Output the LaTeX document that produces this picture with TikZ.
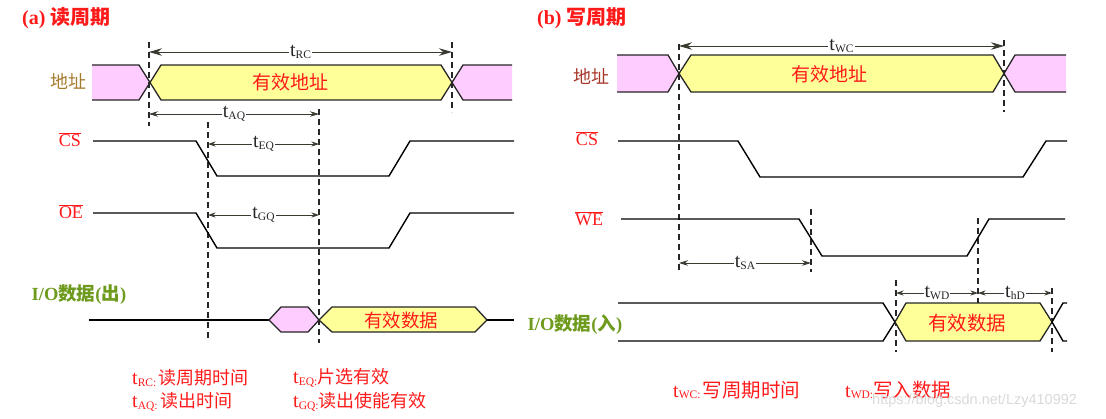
\documentclass[tikz,border=0pt]{standalone}
\usepackage{fontspec}
\setmainfont{Liberation Serif}
\newfontfamily\cjk{Noto Sans CJK SC}
\newfontfamily\wmfont{Liberation Sans}
\usetikzlibrary{arrows.meta}
\definecolor{pinkf}{HTML}{FFCCFF}
\definecolor{yelf}{HTML}{FFFF99}
\definecolor{tred}{HTML}{FF1A1A}
\definecolor{addrA}{HTML}{A57B2E}
\definecolor{addrB}{HTML}{A8362A}
\definecolor{iog}{HTML}{6E9A1E}
\definecolor{arrg}{HTML}{3A3A30}
\newcommand\tlbl[1]{{\fontsize{20}{20}\selectfont t}\raisebox{-1.5pt}{\fontsize{11.5}{11.5}\selectfont #1}}
\tikzset{
  sig/.style={line width=1.4pt, black, line join=miter},
  busln/.style={line width=1.3pt, black!85, line join=miter},
  dashln/.style={line width=1.1pt, black!85, dash pattern=on 6pt off 4pt},
  tarr/.style={line width=0.8pt, arrg, {Stealth[length=9pt,width=5.5pt]}-{Stealth[length=9pt,width=5.5pt]}},
  tarrsm/.style={line width=0.8pt, arrg, {Stealth[length=7.5pt,width=5pt]}-{Stealth[length=7.5pt,width=5pt]}},
  tarrbig/.style={line width=0.9pt, arrg, {Stealth[length=13pt,width=7.5pt]}-{Stealth[length=13pt,width=7.5pt]}},
  tlab/.style={fill=white, inner sep=1pt, text=black!85},
  bustext/.style={text=tred, font=\cjk\fontsize{19}{19}\selectfont},
  siglab/.style={text=tred, font=\fontsize{18}{18}\selectfont},
  legend/.style={anchor=west, text=tred, inner sep=0pt},
}
\begin{document}
\begin{tikzpicture}[x=1pt,y=-1pt]
\useasboundingbox (0,0) rectangle (1106,418);

% ================= (a) read cycle =================
\node[anchor=west, text=tred, inner sep=0pt] (titleA) at (22,18)
  {\fontsize{20}{20}\selectfont\bfseries (a) {\cjk\bfseries 读周期}};

% address bus
\fill[pinkf] (92,65) -- (139,65) -- (150,82.5) -- (139,100) -- (92,100) -- cycle;
\draw[busln] (92,65) -- (139,65) -- (150,82.5) -- (139,100) -- (92,100);
\filldraw[busln, fill=yelf] (150,82.5) -- (161,65) -- (441,65) -- (452,82.5) -- (441,100) -- (161,100) -- cycle;
\fill[pinkf] (452,82.5) -- (463,65) -- (512,65) -- (512,100) -- (463,100) -- cycle;
\draw[busln] (512,65) -- (463,65) -- (452,82.5) -- (463,100) -- (512,100);
\node[bustext] (addrA) at (290,82) {有效地址};
\node[text=addrA, font=\cjk\fontsize{18}{18}\selectfont] (labAddrA) at (68,81) {地址};

% dashed lines
\coordinate (a1t) at (149,42);  \coordinate (a1b) at (149,126);
\coordinate (a2t) at (452,42);  \coordinate (a2b) at (452,112);
\coordinate (a3t) at (208,122); \coordinate (a3b) at (208,340);
\coordinate (a4t) at (319,109); \coordinate (a4b) at (319,343);
\draw[dashln] (a1t) -- (a1b);
\draw[dashln] (a2t) -- (a2b);
\draw[dashln] (a3t) -- (a3b);
\draw[dashln] (a4t) -- (a4b);

% timing arrows
\coordinate (rcL) at (149,52); \coordinate (rcR) at (452,52);
\draw[tarrbig] (rcL) -- node[tlab] (tRC) {\tlbl{RC}} (rcR);
\coordinate (aqL) at (149,114); \coordinate (aqR) at (319,114);
\draw[tarr] (aqL) -- node[tlab] (tAQ) {\tlbl{AQ}} (aqR);
\coordinate (eqL) at (208,144); \coordinate (eqR) at (319,144);
\draw[tarrsm] (eqL) -- node[tlab] (tEQ) {\tlbl{EQ}} (eqR);
\coordinate (gqL) at (208,215); \coordinate (gqR) at (319,215);
\draw[tarrsm] (gqL) -- node[tlab] (tGQ) {\tlbl{GQ}} (gqR);

% CS and OE
\node[siglab] (labCSa) at (70,140) {$\overline{\mbox{CS}}$};
\draw[sig] (93,141) -- (196,141) -- (217,176) -- (389,176) -- (410,141) -- (514,141);
\node[siglab] (labOEa) at (71,212) {$\overline{\mbox{OE}}$};
\draw[sig] (93,213) -- (196,213) -- (217,248) -- (389,248) -- (410,213) -- (514,213);

% I/O data out
\node[text=iog, font=\fontsize{18.5}{18.5}\selectfont\bfseries] (labIOa) at (79,295)
  {I/O{\cjk\bfseries 数据}({\cjk\bfseries 出})};
\draw[sig] (89,320) -- (269,320);
\filldraw[busln, fill=pinkf] (269,320) -- (281,307) -- (308,307) -- (319,320) -- (308,332) -- (281,332) -- cycle;
\filldraw[busln, fill=yelf] (319,320) -- (332,307) -- (475,307) -- (487,320) -- (475,332) -- (332,332) -- cycle;
\draw[sig] (487,320) -- (514,320);
\node[bustext, font=\cjk\fontsize{18.5}{18.5}\selectfont] (dataA) at (401,320) {有效数据};

% legend
\node[legend] (legRC) at (132,378) {\tlbl{RC:} {\cjk\fontsize{18}{18}\selectfont 读周期时间}};
\node[legend] (legAQ) at (132,402) {\tlbl{AQ:} {\cjk\fontsize{18}{18}\selectfont 读出时间}};
\node[legend] (legEQ) at (293,378) {\tlbl{EQ:}{\cjk\fontsize{18}{18}\selectfont 片选有效}};
\node[legend] (legGQ) at (293,402) {\tlbl{GQ:}{\cjk\fontsize{18}{18}\selectfont 读出使能有效}};

% ================= (b) write cycle =================
\node[anchor=west, text=tred, inner sep=0pt] (titleB) at (537,18)
  {\fontsize{20}{20}\selectfont\bfseries (b) {\cjk\bfseries 写周期}};

% address bus
\fill[pinkf] (617,55) -- (668,55) -- (679,73.5) -- (668,92) -- (617,92) -- cycle;
\draw[busln] (617,55) -- (668,55) -- (679,73.5) -- (668,92) -- (617,92);
\filldraw[busln, fill=yelf] (679,73.5) -- (691,55) -- (993,55) -- (1004,73.5) -- (993,92) -- (691,92) -- cycle;
\fill[pinkf] (1004,73.5) -- (1015,55) -- (1066,55) -- (1066,92) -- (1015,92) -- cycle;
\draw[busln] (1066,55) -- (1015,55) -- (1004,73.5) -- (1015,92) -- (1066,92);
\node[bustext] (addrB) at (829,74) {有效地址};
\node[text=addrB, font=\cjk\fontsize{18}{18}\selectfont] (labAddrB) at (591,76) {地址};

% dashed lines
\coordinate (b1t) at (679,44);  \coordinate (b1b) at (679,272);
\coordinate (b2t) at (1004,40); \coordinate (b2b) at (1004,112);
\coordinate (b3t) at (811,209); \coordinate (b3b) at (811,272);
\coordinate (b4t) at (978,218); \coordinate (b4b) at (978,303);
\coordinate (b5t) at (896,280); \coordinate (b5b) at (896,352);
\coordinate (b6t) at (1052,288); \coordinate (b6b) at (1052,352);
\draw[dashln] (b1t) -- (b1b);
\draw[dashln] (b2t) -- (b2b);
\draw[dashln] (b3t) -- (b3b);
\draw[dashln] (b4t) -- (b4b);
\draw[dashln] (b5t) -- (b5b);
\draw[dashln] (b6t) -- (b6b);

% timing arrows
\coordinate (wcL) at (679,46); \coordinate (wcR) at (1004,46);
\draw[tarrbig] (wcL) -- node[tlab] (tWC) {\tlbl{WC}} (wcR);
\coordinate (saL) at (679,263); \coordinate (saR) at (811,263);
\draw[tarr] (saL) -- node[tlab] (tSA) {\tlbl{SA}} (saR);
\coordinate (wdL) at (896,293); \coordinate (wdR) at (978,293);
\draw[tarrsm] (wdL) -- node[tlab] (tWD) {\tlbl{WD}} (wdR);
\coordinate (hdL) at (978,293); \coordinate (hdR) at (1052,293);
\draw[tarrsm] (hdL) -- node[tlab] (tHD) {\tlbl{hD}} (hdR);

% CS and WE
\node[siglab] (labCSb) at (587,139) {$\overline{\mbox{CS}}$};
\draw[sig] (618,141) -- (738,141) -- (760,177) -- (1023,177) -- (1046,141) -- (1067,141);
\node[siglab] (labWEb) at (589,219) {$\overline{\mbox{WE}}$};
\draw[sig] (621,219) -- (799,219) -- (822,256) -- (967,256) -- (989,219) -- (1065,219);

% I/O data in
\draw[sig] (618,303) -- (883,303) -- (895,322) -- (883,341) -- (618,341);
\filldraw[busln, fill=yelf] (895,322) -- (906,303) -- (1040,303) -- (1052,322) -- (1040,341) -- (906,341) -- cycle;
\draw[sig] (1067,303) -- (1063,303) -- (1052,322) -- (1063,341) -- (1067,341);
\node[text=iog, font=\fontsize{18.5}{18.5}\selectfont\bfseries] (labIOb) at (575,325)
  {I/O{\cjk\bfseries 数据}({\cjk\bfseries 入})};
\node[bustext, font=\cjk\fontsize{19.5}{19.5}\selectfont] (dataB) at (967,323) {有效数据};

% legend
\node[legend] (legWC) at (673,390) {\tlbl{WC:} {\cjk\fontsize{19.5}{19.5}\selectfont 写周期时间}};
\node[legend] (legWD) at (845,390) {\tlbl{WD:}{\cjk\fontsize{19.5}{19.5}\selectfont 写入数据}};

% watermark
\node[anchor=west, inner sep=0pt, text=black!15, font=\wmfont\fontsize{14.5}{14.5}\selectfont] (wm) at (872,401) {https://blog.csdn.net/Lzy410992};
\end{tikzpicture}
\end{document}
